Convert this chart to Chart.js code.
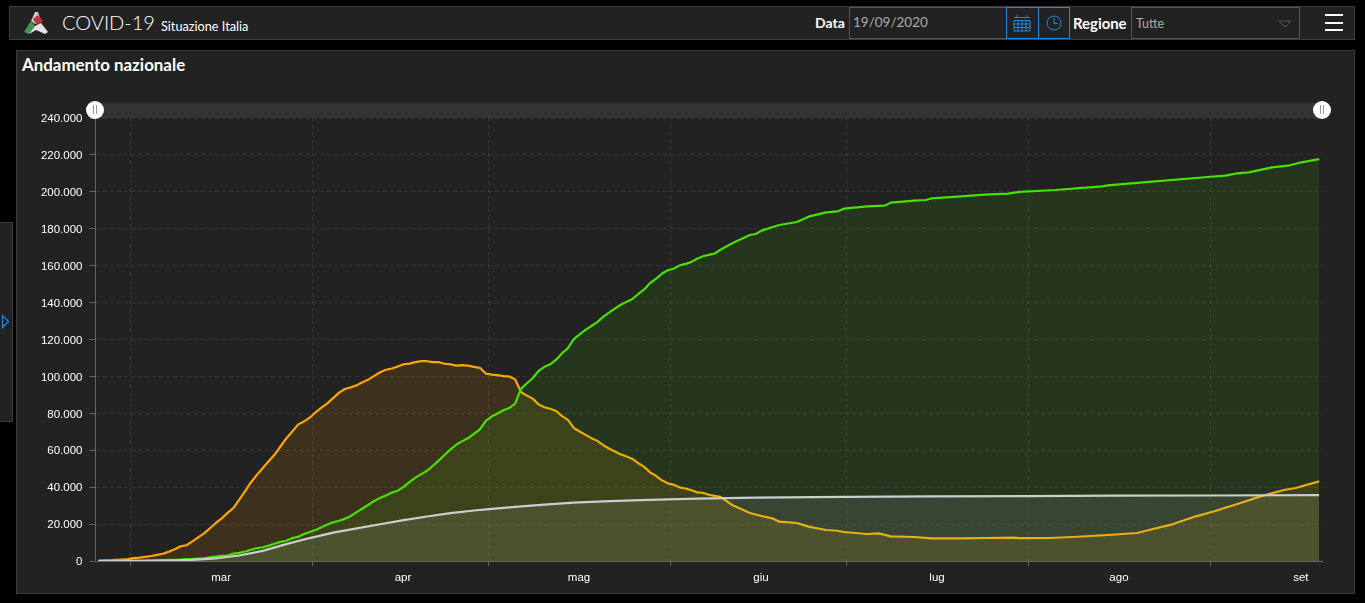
<!DOCTYPE html>
<html lang="it">
<head>
<meta charset="utf-8">
<title>COVID-19 Situazione Italia</title>
<script src="https://cdn.jsdelivr.net/npm/chart.js@4/dist/chart.umd.min.js"></script>
<style>
    html, body { margin: 0; padding: 0; width: 1365px; height: 603px; overflow: hidden; background: #000; }
    body { position: relative; font-family: Lato, "Open Sans", sans-serif; color: #fff; }
    .box { position: absolute; box-sizing: border-box; background: #222; border: 1px solid #3c3c3c; }
    .txt { position: absolute; white-space: nowrap; }
    .campo { position: absolute; box-sizing: border-box; border: 1px solid #555; background: #222; height: 32px; top: 7px; }
    .btn { position: absolute; box-sizing: border-box; border: 1px solid #1e88e5; height: 32px; top: 7px; width: 33px; }
    .bar { position: absolute; left: 1325px; width: 18px; height: 2px; background: #fff; }
    .handle { position: absolute; top: 101px; width: 18px; height: 18px; border-radius: 50%; background: #fff; }
    .handle:after { content: ""; position: absolute; left: 7px; top: 4px; width: 2px; height: 9px; border-left: 1px solid #999; border-right: 1px solid #999; }
    #chart { position: absolute; left: 17px; top: 90px; }
</style>
</head>
<body>
<div class="box" style="left:9px;top:6px;width:1346px;height:34px"></div>
<svg class="txt" style="left:23px;top:11px" width="26" height="24" viewBox="0 0 26 24">
    <path d="M12 1 L15 1 L18 10 L12 13 L8 10 Z" fill="#c9c9c9"/>
    <path d="M10 8 L14 14 L20 10 L15 4 Z" fill="#c8313a"/>
    <path d="M1 21 L8 10 L12 15 L6 23 Z" fill="#3d9a4f"/>
    <path d="M6 23 L12 15 L18 12 L25 21 L22 23 L13 19 Z" fill="#e4e4e4"/>
</svg>
<div class="txt" style="left:62px;top:10px;font-size:20px;font-weight:300">COVID-19</div>
<div class="txt" style="left:161px;top:18px;font-size:12.7px">Situazione Italia</div>

<div class="txt" style="left:815px;top:14px;font-size:14px;font-weight:700">Data</div>
<div class="campo" style="left:849px;width:158px"></div>
<div class="txt" style="left:853px;top:14px;font-size:13.5px;color:#aaa">19/09/2020</div>
<div class="btn" style="left:1006px"></div>
<div class="btn" style="left:1038px;width:32px"></div>
<svg class="txt" style="left:1013px;top:14px" width="18" height="18" viewBox="0 0 18 18" fill="none" stroke="#1e88e5">
    <path d="M1 3.5H17M1 6.5H17V17H1ZM1 10H17M1 13.500H17M5 6.500V17M9 6.500V17M13 6.500V17M4 1V3M14 1V3"/>
</svg>
<svg class="txt" style="left:1045px;top:14px" width="18" height="18" viewBox="0 0 18 18" fill="none" stroke="#1e88e5">
    <circle cx="9" cy="9" r="7"/><path d="M9 4V9.500H13"/>
</svg>
<div class="txt" style="left:1073px;top:14px;font-size:14.9px;font-weight:700">Regione</div>
<div class="campo" style="left:1131px;width:169px"></div>
<div class="txt" style="left:1136px;top:16px;font-size:12.5px;color:#aaa">Tutte</div>
<svg class="txt" style="left:1278px;top:20px" width="14" height="8" viewBox="0 0 14 8" fill="none" stroke="#555">
    <path d="M1 1H13L7 7Z"/>
</svg>
<div class="bar" style="top:14px"></div>
<div class="bar" style="top:22px"></div>
<div class="bar" style="top:29px"></div>

<div class="box" style="left:0;top:222px;width:13px;height:200px;border-left:0"></div>
<svg class="txt" style="left:1px;top:314px" width="9" height="15" viewBox="0 0 9 15" fill="none" stroke="#1e88e5" stroke-width="1.200">
    <path d="M1.500 1.500L7.500 7.500L1.500 13.500Z"/>
</svg>

<div class="box" style="left:16px;top:50px;width:1339px;height:544px"></div>
<div class="txt" style="left:22px;top:54px;font-size:16.9px;font-weight:700">Andamento nazionale</div>

<canvas id="chart" width="1335" height="500"></canvas>

<div class="txt" style="left:95px;top:103px;width:1227px;height:15px;background:#333"></div>
<div class="handle" style="left:86px"></div>
<div class="handle" style="left:1313px"></div>

<script>
// giorni contati dal 24 febbraio
const mesi = ['mar', 'apr', 'mag', 'giu', 'lug', 'ago', 'set'];
const inizioMese = [6, 37, 67, 98, 128, 159, 190];
const centroMese = [21.4, 52.4, 82.4, 113.4, 143.4, 174.4, 205.4];
const tickValori = [0, 20000, 40000, 60000, 80000, 100000, 120000, 140000, 160000, 180000, 200000, 220000, 240000];

const giorniFitti = Array.from({ length: 107 }, (v, i) => i);

const giorniPositivi = [...giorniFitti, 108, 111, 113, 115, 116, 119, 121, 124, 126, 127, 131, 133, 135, 139, 142, 147, 151, 156, 157, 162, 166, 172, 177, 179, 183, 187, 190, 195, 198, 202, 204, 208];
const positivi = [
    221, 311, 385, 588, 821, 1049,
    1577, 1835, 2263, 2706, 3296, 3916, 5061, 6387, 7985, 8514, 10590, 12839, 14955, 17750, 20603, 23073, 26062, 28710, 33190, 37860, 42681, 46638, 50418, 54030, 57521, 62013, 66414, 70065, 73880, 75528, 77635,
    80572, 83049, 85388, 88274, 91246, 93187, 94067, 95262, 96877, 98273, 100269, 102253, 103616, 104291, 105418, 106607, 106962, 107771, 108257, 108237, 107709, 107699, 106848, 106527, 105847, 106103, 105813, 105205, 104657, 101551,
    100943, 100704, 100179, 99980, 98467, 91528, 89624, 87961, 84842, 83324, 82488, 81266, 78457, 76440, 72070, 70187, 68351, 66553, 65129, 62752, 60960, 59322, 57752, 56594, 55300, 52942, 50966, 47986, 46175, 43691, 42075,
    41367, 39893, 39297, 38429, 37176, 36976, 35877, 35262, 34730,
    30340, 26000, 24380, 22940, 21300, 20590, 18600, 16800, 16400, 15700, 14630, 14990, 13360, 13000, 12280, 12280, 12460, 12640, 12350, 12460, 13000, 14080, 15170, 16800, 19870, 24200, 26800, 31790, 35000, 38470, 39550, 43161
];

const giorniGuariti = [...giorniFitti, 108, 111, 112, 113, 116, 119, 121, 124, 126, 127, 131, 134, 135, 139, 141, 142, 147, 151, 155, 157, 163, 171, 172, 176, 189, 192, 194, 196, 200, 203, 205, 208];
const guariti = [
    1, 1, 3, 45, 46, 50,
    83, 149, 160, 276, 414, 523, 589, 622, 724, 1004, 1045, 1258, 1439, 1966, 2335, 2749, 2941, 4025, 4440, 5129, 6072, 7024, 7432, 8326, 9362, 10361, 10950, 12384, 13030, 14620, 15729,
    16847, 18278, 19758, 20996, 21815, 22837, 24392, 26491, 28470, 30455, 32534, 34211, 35435, 37130, 38092, 40164, 42727, 45154, 47055, 48877, 51600, 54543, 57576, 60498, 63120, 64928, 66624, 68941, 71252, 75945,
    78249, 79914, 81654, 82879, 85231, 93245, 96276, 99023, 103031, 105186, 106587, 109039, 112541, 115288, 120205, 122810, 125176, 127326, 129401, 132282, 134560, 136720, 138840, 140479, 141981, 144658, 147101, 150604, 152844, 155633, 157507,
    158355, 160092, 160938, 161895, 163781, 165078, 165837, 166584, 168646,
    172100, 176630, 177170, 178970, 182040, 183670, 186560, 188900, 189450, 190900, 192160, 192520, 194150, 195230, 195590, 196500, 197570, 198470, 199020, 199930, 201000, 203000, 203500, 204620, 208050, 208770, 210040, 210580, 213290, 214370, 216000, 217716
];

const giorniDeceduti = [0, 6, 12, 16, 20, 24, 28, 32, 36, 40, 44, 48, 52, 56, 60, 64, 67, 71, 76, 81, 86, 91, 97, 102, 112, 127, 142, 158, 173, 189, 208];
const deceduti = [7, 34, 233, 631, 1441, 2978, 5476, 9134, 12428, 15362, 17669, 19899, 22170, 24114, 25969, 27359, 28236, 29315, 30560, 31610, 32330, 32877, 33415, 33774, 34371, 34767, 34984, 35132, 35392, 35483, 35668];

function punti(giorni, valori) {
    // il punto sta al centro della cella del giorno
    return giorni.map((g, i) => ({ x: g + 0.5, y: valori[i] }));
}

function formatta(v) {
    return String(v).replace(/\B(?=(\d{3})+$)/g, '.');
}

const griglia = 'rgba(255,255,255,0.09)';
const asse = '#666';

new Chart(document.getElementById('chart'), {
    type: 'line',
    data: {
        datasets: [
            {
                label: 'Deceduti',
                data: punti(giorniDeceduti, deceduti),
                borderColor: '#cccccc',
                backgroundColor: 'rgba(204,204,204,0.11)',
                fill: 'origin',
                order: 1
            },
            {
                label: 'Guariti',
                data: punti(giorniGuariti, guariti),
                borderColor: '#48e000',
                backgroundColor: 'rgba(72,224,0,0.1)',
                fill: 'origin',
                order: 2
            },
            {
                label: 'Positivi',
                data: punti(giorniPositivi, positivi),
                borderColor: '#ffa500',
                backgroundColor: 'rgba(255,165,0,0.12)',
                fill: 'origin',
                order: 3
            }
        ]
    },
    options: {
        responsive: false,
        animation: false,
        devicePixelRatio: 1,
        layout: { padding: { top: 28, right: 30, left: 0, bottom: 0 } },
        elements: {
            point: { radius: 0 },
            line: { borderWidth: 2.2, tension: 0, borderJoinStyle: 'round' }
        },
        plugins: {
            legend: { display: false },
            tooltip: { enabled: false }
        },
        scales: {
            x: {
                type: 'linear',
                min: 0,
                max: 209,
                afterBuildTicks: scale => {
                    scale.ticks = [...inizioMese, ...centroMese].map(v => ({ value: v }));
                },
                afterFit: scale => { scale.height = 29; },
                grid: {
                    color: ctx => inizioMese.includes(ctx.tick.value) ? griglia : 'transparent',
                    tickColor: ctx => inizioMese.includes(ctx.tick.value) ? asse : 'transparent',
                    tickLength: 5
                },
                border: { color: asse, dash: [4, 3] },
                ticks: {
                    autoSkip: false,
                    maxRotation: 0,
                    padding: 5,
                    color: '#fff',
                    font: { family: 'Liberation Sans', size: 11.5 },
                    callback: v => {
                        const i = centroMese.indexOf(v);
                        return i < 0 ? '' : mesi[i];
                    }
                }
            },
            y: {
                min: 0,
                max: 240000,
                afterBuildTicks: scale => {
                    scale.ticks = tickValori.map(v => ({ value: v }));
                },
                afterFit: scale => { scale.width = 78.5; },
                grid: { color: griglia, tickColor: asse, tickLength: 6 },
                border: { color: asse, dash: [4, 3] },
                ticks: {
                    padding: 7,
                    labelOffset: 1,
                    color: '#fff',
                    font: { family: 'Liberation Sans', size: 11.5 },
                    callback: v => formatta(v)
                }
            }
        }
    }
});
</script>
</body>
</html>
